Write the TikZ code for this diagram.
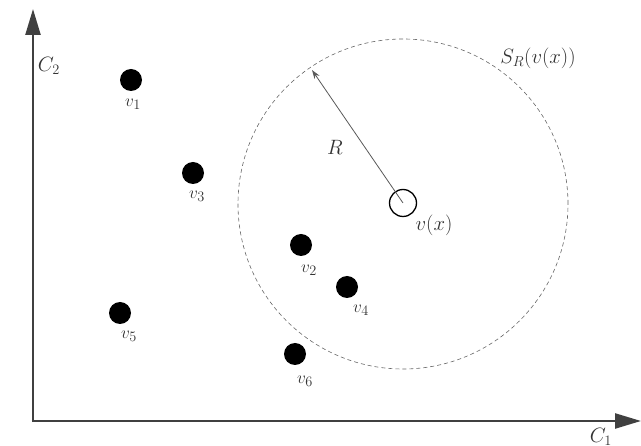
\documentclass[tikz,border=0pt]{standalone}
\usetikzlibrary{arrows.meta}
\begin{document}
\begin{tikzpicture}[x=1pt,y=-1pt,
  dotnode/.style={circle,fill=black,inner sep=0pt,minimum size=22pt},
  vlab/.style={font=\fontsize{19}{19}\selectfont,inner sep=0pt,text=black!80},
  axis/.style={draw=black!75,line width=2.4pt,-{Triangle[length=26pt,width=15pt]}},
  lab/.style={font=\fontsize{20}{20}\selectfont,inner sep=0pt,text=black!80}]
\useasboundingbox (0,0) rectangle (641,446);
% axes
\coordinate (o) at (33,421);
\coordinate (ytip) at (33,9);
\coordinate (xtip) at (641,421);
\draw[axis] (33,422.2) -- (ytip);
\draw[axis] (31.8,421) -- (xtip);
\node[lab] (c2) at (49,66) {$C_2$};
\node[lab] (c1) at (601,437) {$C_1$};
% dashed sphere
\node[circle,draw=black!60,dashed,dash pattern=on 4pt off 3pt,line width=0.6pt,minimum size=330pt,inner sep=0pt] (S) at (403,204) {};
\node[lab] (Slab) at (538,58) {$S_R(v(x))$};
% center
\node[circle,draw=black,line width=1.3pt,minimum size=27pt,inner sep=0pt] (vx) at (403,203) {};
\node[lab] (vxlab) at (434,225) {$v(x)$};
\coordinate (rend) at (312,70);
\draw[black!65,line width=0.8pt,-{Stealth[length=9pt,width=6pt]}] (vx.center) -- (rend);
\node[lab] (R) at (335,147) {$R$};
% points
\node[dotnode] (v1) at (131,80) {};
\node[dotnode] (v3) at (193,173) {};
\node[dotnode] (v2) at (301,245) {};
\node[dotnode] (v4) at (347,287) {};
\node[dotnode] (v5) at (120,313) {};
\node[dotnode] (v6) at (295,354) {};
\node[vlab] (l1) at (133,104) {$v_1$};
\node[vlab] (l3) at (197,196) {$v_3$};
\node[vlab] (l2) at (309,270) {$v_2$};
\node[vlab] (l4) at (361,310) {$v_4$};
\node[vlab] (l5) at (129,336) {$v_5$};
\node[vlab] (l6) at (305,381) {$v_6$};
\end{tikzpicture}
\end{document}
